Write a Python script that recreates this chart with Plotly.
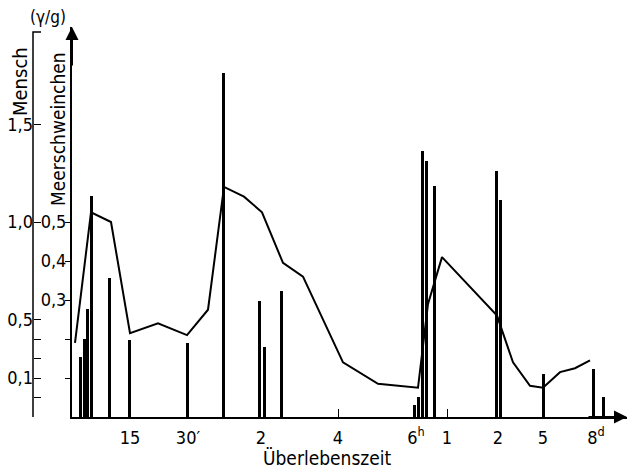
import plotly.graph_objects as go

# ---- data (x in axis position units along the broken time scale) ----
tick_pos = [5.8, 11.6, 18.9, 26.6, 34.4, 37.5, 42.6, 47.1, 52.4]
tick_text = ["15", "30′", "2", "4", "6<sup>h</sup>", "1", "2", "5", "8<sup>d</sup>"]

# Meerschweinchen (bars), γ/g
bar_x = [0.8, 1.2, 1.5, 1.9, 3.7, 5.7, 11.5, 15.1, 18.7, 19.2, 20.9,
         34.2, 34.6, 35.0, 35.4, 36.2, 42.4, 42.8, 47.1, 52.1, 53.1]
bar_y = [0.154, 0.200, 0.277, 0.567, 0.356, 0.197, 0.190, 0.882, 0.297, 0.179, 0.323,
         0.031, 0.051, 0.682, 0.656, 0.592, 0.631, 0.556, 0.110, 0.123, 0.051]

# Mensch (curve), γ/g
line_x = [0.3, 1.9, 3.9, 5.8, 8.6, 11.5, 13.6, 15.2, 17.2, 19.0, 21.1, 23.1,
          27.1, 30.6, 34.6, 35.6, 37.0, 42.5, 44.1, 45.8, 47.1, 48.8, 50.3, 51.8]
line_y = [0.38, 1.05, 1.00, 0.43, 0.48, 0.42, 0.55, 1.18, 1.13, 1.05, 0.79, 0.72,
          0.28, 0.17, 0.15, 0.58, 0.82, 0.52, 0.28, 0.16, 0.15, 0.23, 0.25, 0.29]

meer_ticks = [0.1, 0.2, 0.3, 0.4, 0.5]
meer_label_vals = [0.3, 0.4, 0.5]
meer_text = ["0,3", "0,4", "0,5"]
mensch_ticks = [0.1, 0.2, 0.3, 0.4, 0.5, 1.0, 1.5]
mensch_text = ["", "0,1", "", "", "0,5", "1,0", "1,5"]

FONT = "DejaVu Sans Condensed, Liberation Sans Narrow, Roboto, sans-serif"
W, H = 629, 470
ML, MR, MT, MB = 10, 2, 27, 53
PW, PH = W - ML - MR, H - MT - MB


def px(x):
    return (x - ML) / PW


def py(y):
    return (H - MB - y) / PH


fig = go.Figure()
fig.add_trace(go.Bar(x=bar_x, y=bar_y, width=0.3, marker=dict(color="black", line=dict(width=0)),
                     yaxis="y", showlegend=False))
fig.add_trace(go.Scatter(x=line_x, y=line_y, mode="lines", line=dict(color="black", width=2),
                         yaxis="y2", showlegend=False))

fig.update_layout(
    width=W, height=H,
    margin=dict(l=ML, r=MR, t=MT, b=MB),
    paper_bgcolor="white", plot_bgcolor="white",
    font=dict(family=FONT, size=18, color="black"),
    xaxis=dict(domain=[px(72), 1], range=[0, 55.5], showgrid=False, zeroline=False,
               showline=True, linecolor="black", linewidth=2,
               tickmode="array", tickvals=tick_pos, ticktext=tick_text, ticks="",
               ticklabelstandoff=3,
               minor=dict(tickmode="array", tickvals=[26.6, 37.5], ticks="inside",
                          ticklen=8, tickwidth=1, tickcolor="black")),
    yaxis=dict(range=[0, 1.0], showgrid=False, zeroline=False, showline=True,
               linecolor="black", linewidth=2, tickmode="array", tickvals=meer_label_vals,
               ticktext=meer_text, ticks="", ticklabelstandoff=0,
               minor=dict(tickmode="array", tickvals=meer_ticks, ticks="outside",
                          ticklen=5, tickwidth=1, tickcolor="black")),
    yaxis2=dict(range=[0, 2.0], overlaying="y", side="left", anchor="free", position=px(33),
                showgrid=False, zeroline=False, showline=False, tickmode="array",
                tickvals=mensch_ticks, ticktext=mensch_text, ticks="inside", ticklen=7,
                tickwidth=1, tickcolor="black"),
    bargap=0,
)

# outer axis line with top hook
fig.add_shape(type="path", xref="paper", yref="paper",
              path=f"M {px(33)},{py(417)} L {px(33)},{py(32)} L {px(41)},{py(32)}",
              line=dict(color="black", width=1.5))

# arrows
fig.add_annotation(x=0, y=1.0, xref="x", yref="y", ax=0, ay=40, axref="pixel", ayref="pixel",
                   showarrow=True, arrowhead=2, arrowsize=1.3, arrowwidth=2, arrowcolor="black", text="")
fig.add_annotation(x=55.5, y=0, xref="x", yref="y", ax=-40, ay=0, showarrow=True, arrowhead=2,
                   arrowsize=1.3, arrowwidth=2, arrowcolor="black", text="")

common = dict(xref="paper", yref="paper", showarrow=False, xanchor="center", yanchor="middle")
fig.add_annotation(x=px(48), y=py(17), text="(γ/g)", font=dict(size=17), **common)
fig.add_annotation(x=px(20), y=py(82), text="Mensch", textangle=-90, font=dict(size=20), **common)
fig.add_annotation(x=px(58), y=py(129), text="Meerschweinchen", textangle=-90,
                   font=dict(size=19), **common)
fig.add_annotation(x=px(328), y=py(458), text="Überlebenszeit", font=dict(size=19), **common)

fig.write_html("out.html")
